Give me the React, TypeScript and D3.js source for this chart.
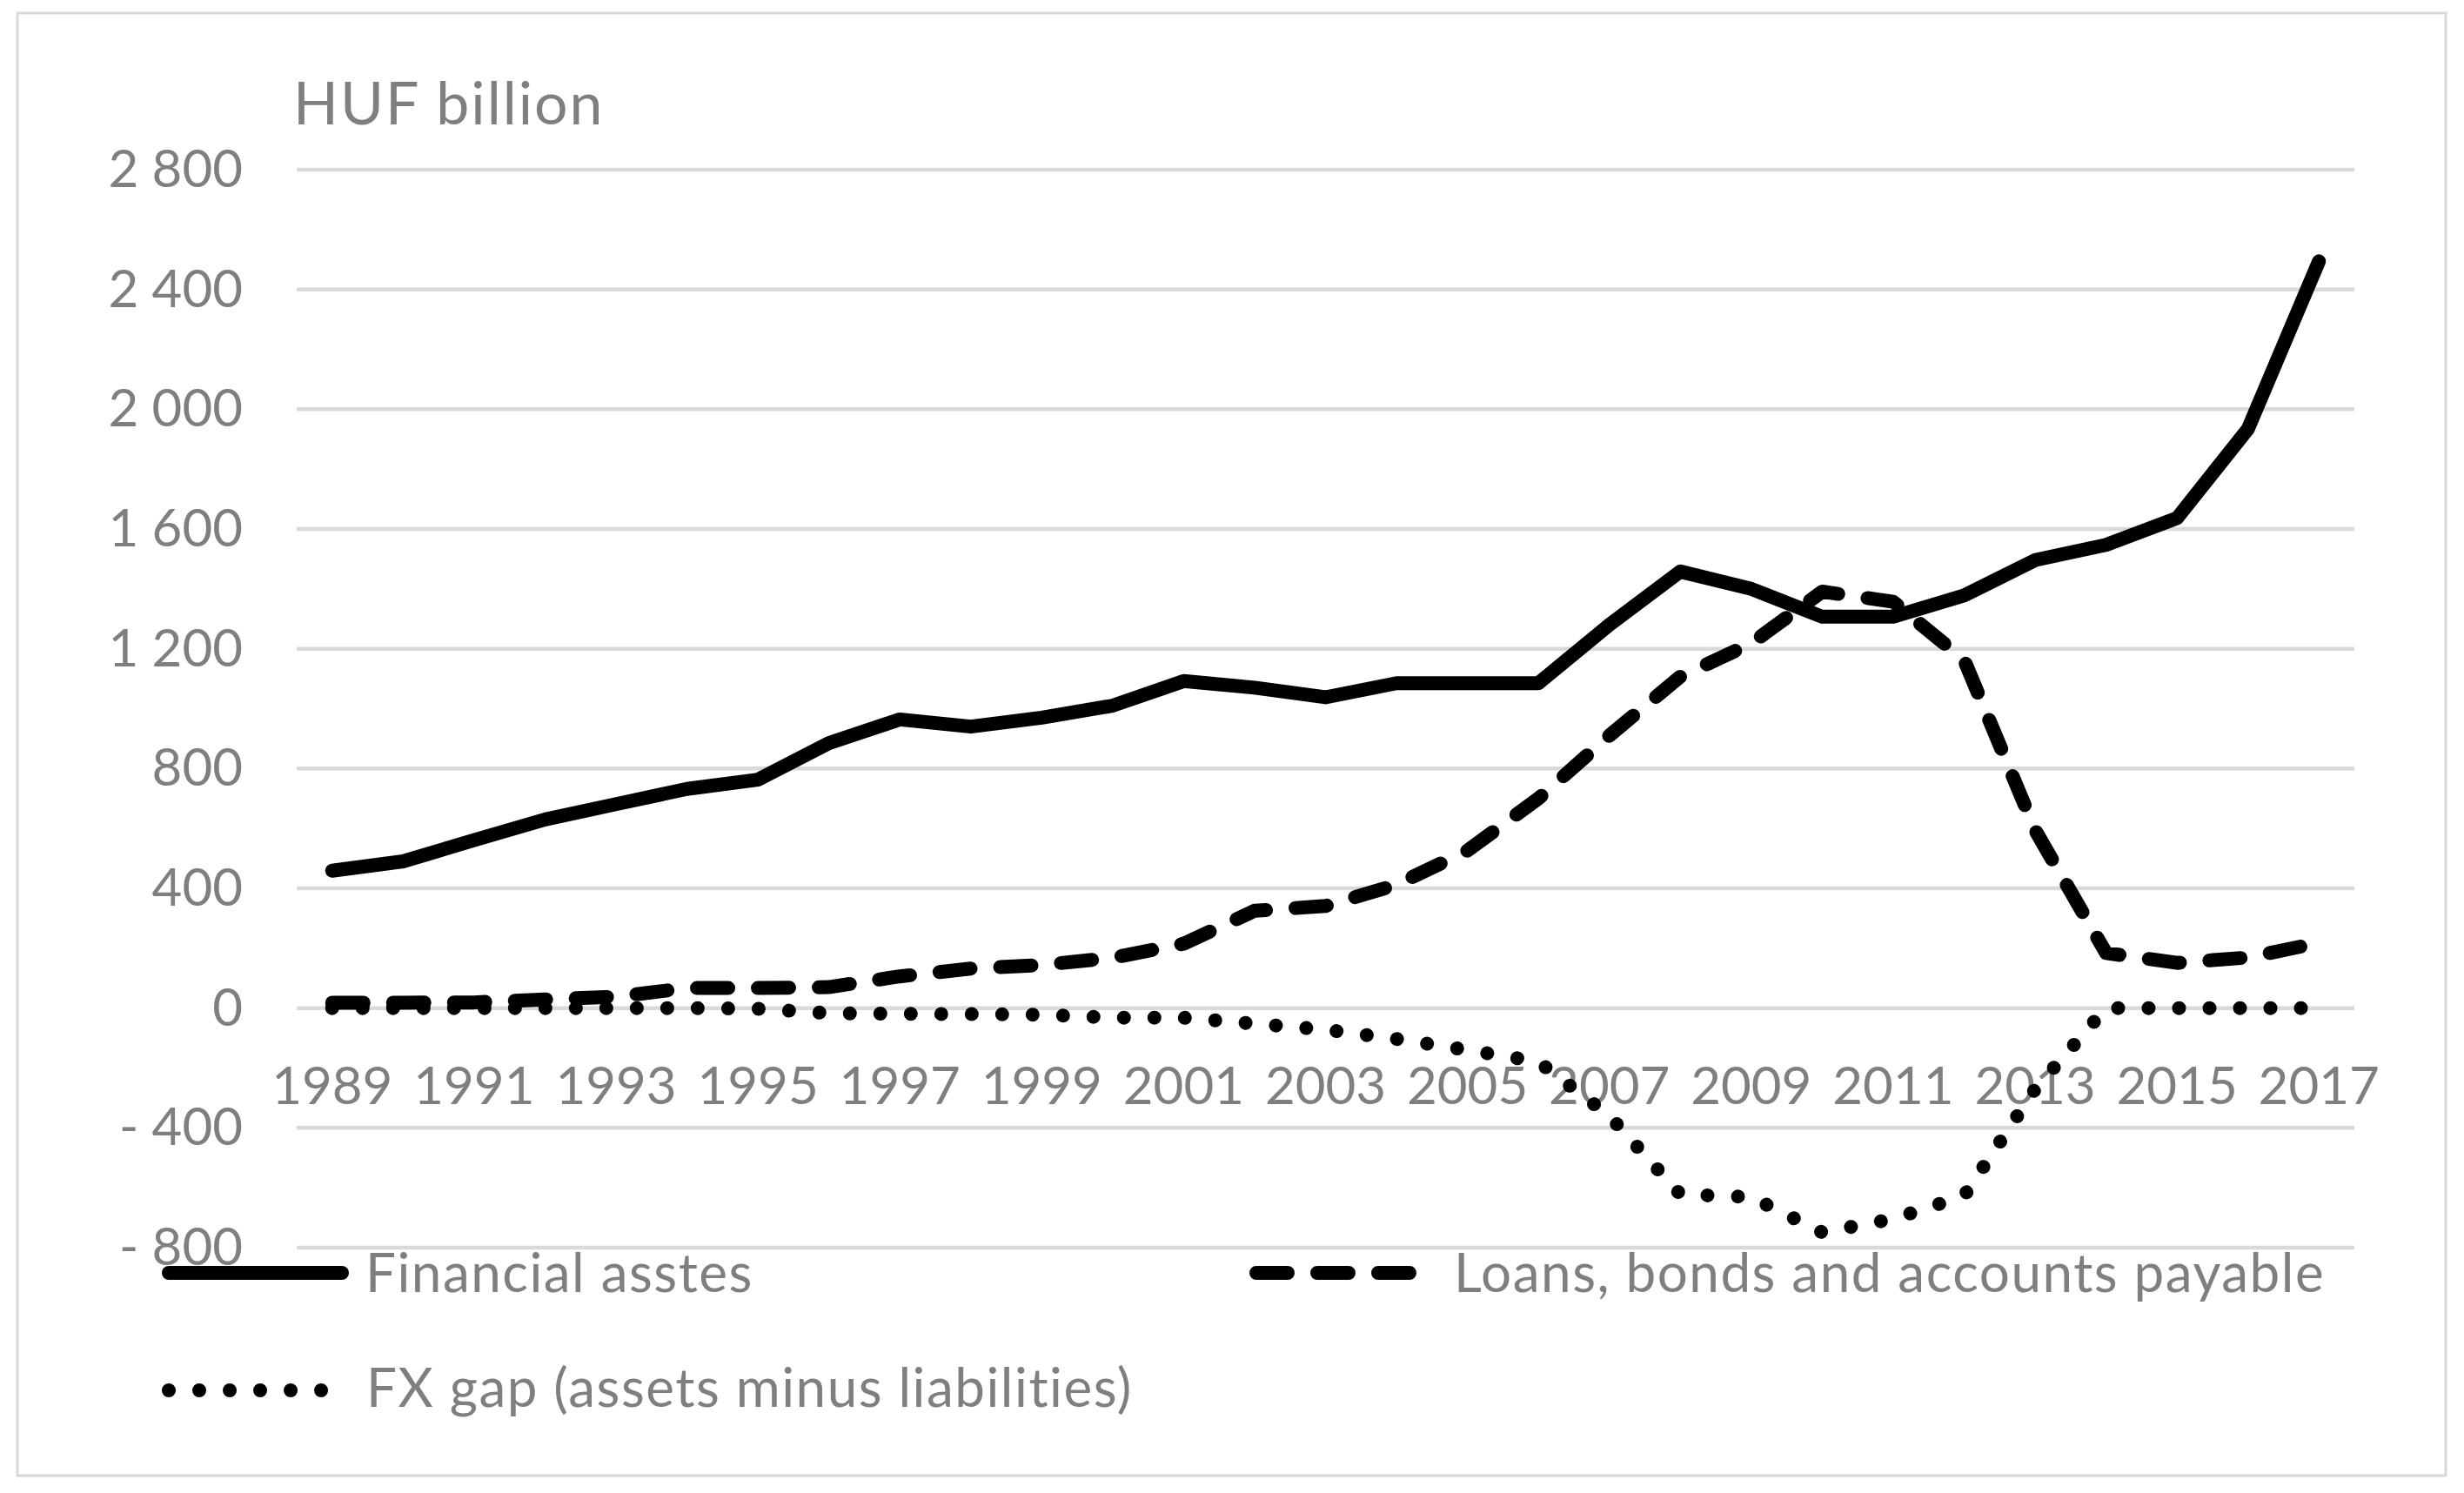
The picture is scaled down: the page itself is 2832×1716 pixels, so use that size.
import React from "react";
import * as d3 from "d3";

const years = [
  "1989", "1990", "1991", "1992", "1993", "1994", "1995", "1996", "1997", "1998",
  "1999", "2000", "2001", "2002", "2003", "2004", "2005", "2006", "2007", "2008",
  "2009", "2010", "2011", "2012", "2013", "2014", "2015", "2016", "2017",
];

const financialAssets = [
  459, 490, 561, 630, 681, 732, 763, 885, 964, 940,
  970, 1010, 1092, 1070, 1038, 1085, 1085, 1085, 1280, 1458,
  1400, 1307, 1307, 1378, 1496, 1547, 1636, 1934, 2494,
];

const loansBondsPayables = [
  18, 18, 19, 29, 38, 67, 67, 70, 106, 132,
  144, 168, 215, 325, 341, 412, 526, 700, 910, 1107,
  1218, 1391, 1357, 1163, 595, 184, 151, 169, 218,
];

const fxGap = [
  0, 0, 0, 0, 0, 0, -2, -17, -19, -20,
  -22, -32, -32, -52, -72, -103, -140, -179, -360, -622,
  -631, -749, -704, -627, -271, 0, 0, 0, 0,
];

const yTickValues = [-800, -400, 0, 400, 800, 1200, 1600, 2000, 2400, 2800];
const xTickLabels = years.filter((_, i) => i % 2 === 0);
const seriesNames = [
  "Financial asstes",
  "Loans, bonds and accounts payable",
  "FX gap (assets minus liabilities)",
];
const unitLabel = "HUF billion";

const huLocale = d3.formatLocale({
  decimal: ",",
  thousands: " ",
  grouping: [3],
  currency: ["", ""],
});
const fmt = huLocale.format(",");
const fmtTick = (v: number) => (v < 0 ? "- " + fmt(-v) : fmt(v));

const FONT = "Lato, 'Open Sans', 'DejaVu Sans', sans-serif";
const TEXT = "#7f7f7f";
const GRID = "#d9d9d9";

const solidStyle = { strokeDasharray: "none" };
const dashStyle = { strokeDasharray: "36 34" };
const dotStyle = { strokeDasharray: "0.01 35" };

export default function App() {
  const W = 2832;
  const H = 1716;

  const x = d3.scalePoint<string>().domain(years).range([341, 2706]).padding(0.5);
  const y = d3.scaleLinear().domain([-800, 2800]).range([1434, 195]);

  const lineGen = d3
    .line<number>()
    .x((_, i) => x(years[i]) as number)
    .y((d) => y(d));

  const series = [
    { name: seriesNames[0], values: financialAssets, style: solidStyle },
    { name: seriesNames[1], values: loansBondsPayables, style: dashStyle },
    { name: seriesNames[2], values: fxGap, style: dotStyle },
  ];

  const legendItems = [
    { x0: 194, x1: 393, y: 1463, tx: 420, ty: 1485, style: solidStyle, name: seriesNames[0] },
    { x0: 1444, x1: 1621, y: 1463, tx: 1671, ty: 1485, style: dashStyle, name: seriesNames[1] },
    { x0: 194, x1: 370, y: 1598, tx: 421, ty: 1617, style: dotStyle, name: seriesNames[2] },
  ];

  const [xMin, xMax] = x.range();

  return (
    <svg
      width={W}
      height={H}
      viewBox={`0 0 ${W} ${H}`}
      style={{ position: "absolute", left: 0, top: 0, background: "#ffffff" }}
      fontFamily={FONT}
    >
      <rect x={0} y={0} width={W} height={H} fill="#ffffff" />
      <rect x={20} y={15} width={2791} height={1681} fill="none" stroke={GRID} strokeWidth={3} />

      {/* gridlines */}
      {yTickValues.map((v) => (
        <line key={"g" + v} x1={xMin} x2={xMax} y1={y(v)} y2={y(v)} stroke={GRID} strokeWidth={4.5} />
      ))}

      {/* y tick labels */}
      {yTickValues.map((v) => (
        <text
          key={"yl" + v}
          x={279}
          y={y(v) + 20}
          textAnchor="end"
          fontSize={60}
          fill={TEXT}
        >
          {fmtTick(v)}
        </text>
      ))}

      {/* unit label */}
      <text x={337} y={143} fontSize={68} fill={TEXT} letterSpacing={2}>
        {unitLabel}
      </text>

      {/* x tick labels */}
      {xTickLabels.map((yr) => (
        <text key={"xl" + yr} x={x(yr) as number} y={1269} textAnchor="middle" fontSize={60} fill={TEXT}>
          {yr}
        </text>
      ))}

      {/* series lines */}
      {series.map((s) => (
        <path
          key={s.name}
          d={lineGen(s.values) || ""}
          fill="none"
          stroke="#000000"
          strokeWidth={16}
          strokeLinecap="round"
          strokeLinejoin="round"
          style={s.style}
        />
      ))}

      {/* legend */}
      {legendItems.map((l) => (
        <g key={"lg" + l.name}>
          <line
            x1={l.x0}
            x2={l.x1}
            y1={l.y}
            y2={l.y}
            stroke="#000000"
            strokeWidth={16}
            strokeLinecap="round"
            style={l.style}
          />
          <text x={l.tx} y={l.ty} fontSize={62} fill={TEXT} letterSpacing={1.5}>
            {l.name}
          </text>
        </g>
      ))}
    </svg>
  );
}
